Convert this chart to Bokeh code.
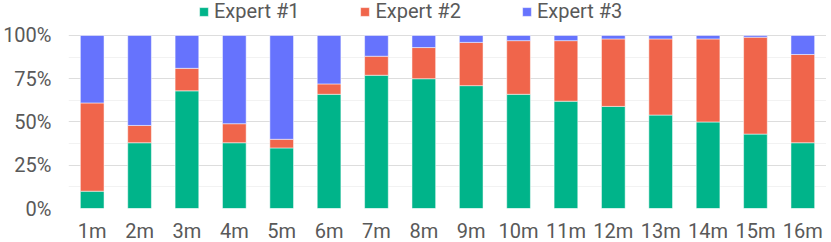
from bokeh.plotting import figure
from bokeh.models import ColumnDataSource, FixedTicker, NumeralTickFormatter, Legend, LegendItem, Range1d, FactorRange
from bokeh.embed import file_html
from bokeh.resources import INLINE

months = ["1m", "2m", "3m", "4m", "5m", "6m", "7m", "8m", "9m", "10m", "11m", "12m", "13m", "14m", "15m", "16m"]
expert1 = [10, 38, 68, 38, 35, 66, 77, 75, 71, 66, 62, 59, 54, 50, 43, 38]
expert2 = [51, 10, 13, 11, 5, 6, 11, 18, 25, 31, 35, 39, 44, 48, 56, 51]
expert3 = [39, 52, 19, 51, 60, 28, 12, 7, 4, 3, 3, 2, 2, 2, 1, 11]
series_names = ["Expert #1", "Expert #2", "Expert #3"]
colors = ["#00b48a", "#f0654b", "#6673fd"]
y_ticks = [0, 0.25, 0.5, 0.75, 1.0]
y_minor = [0.125, 0.375, 0.625, 0.875]

src = ColumnDataSource(dict(
    month=months,
    e1=[v / 100 for v in expert1],
    e2=[v / 100 for v in expert2],
    e3=[v / 100 for v in expert3],
))

FONT = "Roboto"
TXT = "#595959"

p = figure(frame_width=758, frame_height=208, x_range=FactorRange(*months, range_padding=0),
           y_range=Range1d(0, 1.202), output_backend="svg", toolbar_location=None,
           min_border_left=65, min_border_right=0, min_border_top=0, min_border_bottom=26)
p.outline_line_color = None
p.background_fill_color = "white"
p.border_fill_color = "white"

r = p.vbar_stack(["e1", "e2", "e3"], x="month", width=0.5, source=src,
                 color=colors, line_color="white", line_alpha=0.5, line_width=1)

p.xgrid.grid_line_color = None
p.ygrid.ticker = FixedTicker(ticks=y_ticks, minor_ticks=y_minor)
p.ygrid.grid_line_color = "#dddddd"
p.ygrid.minor_grid_line_color = "#f2f2f2"
p.ygrid.level = "underlay"

p.yaxis.ticker = FixedTicker(ticks=y_ticks, minor_ticks=y_minor)
p.yaxis.formatter = NumeralTickFormatter(format="0%")
for ax in (p.xaxis[0], p.yaxis[0]):
    ax.axis_line_color = None
    ax.major_tick_line_color = None
    ax.minor_tick_line_color = None
    ax.major_label_text_font = FONT
    ax.major_label_text_font_size = "20px"
    ax.major_label_text_color = TXT
p.yaxis.major_label_standoff = 11
p.xaxis.major_label_standoff = 4

legend = Legend(items=[LegendItem(label=n, renderers=[rr]) for n, rr in zip(series_names, r)],
                orientation="horizontal", location=(130, 185),
                label_text_font=FONT, label_text_font_size="20px", label_text_color=TXT,
                glyph_width=11, glyph_height=11, label_standoff=5, spacing=60,
                border_line_color=None, background_fill_alpha=0, padding=0, margin=0)
p.add_layout(legend, "center")

open("out.html", "w").write(file_html(p, INLINE))
